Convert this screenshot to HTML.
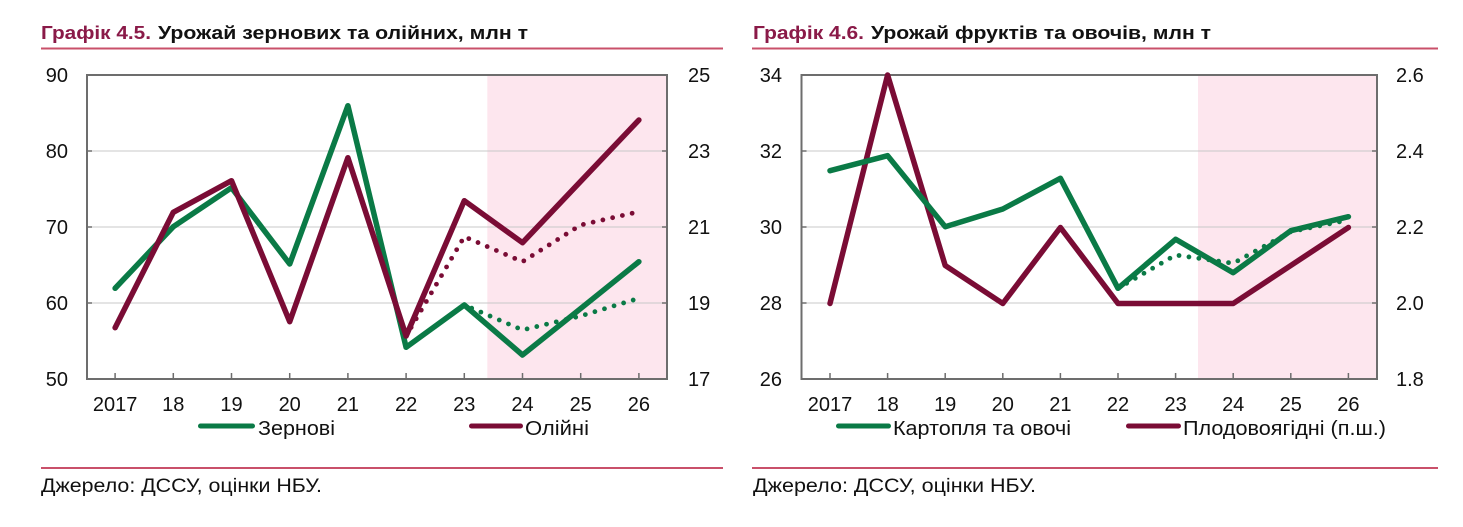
<!DOCTYPE html>
<html>
<head>
<meta charset="utf-8">
<style>
html,body{margin:0;padding:0;background:#fff;}
svg{display:block;}
text{font-family:"Liberation Sans","DejaVu Sans",sans-serif;}
</style>
</head>
<body>
<svg width="1463" height="527" viewBox="0 0 1463 527" xmlns="http://www.w3.org/2000/svg">
<rect width="1463" height="527" fill="#fff"/>

<!-- ===== LEFT CHART ===== -->
<text x="41" y="39" font-size="18" font-weight="bold" fill="#8a1a48" textLength="110" lengthAdjust="spacingAndGlyphs">Графік 4.5.</text>
<text x="158" y="39" font-size="18" font-weight="bold" fill="#111" textLength="370" lengthAdjust="spacingAndGlyphs">Урожай зернових та олійних, млн т</text>
<rect x="41" y="47.5" width="682" height="2" fill="#c9506a"/>

<rect x="487.3" y="75" width="179.7" height="304" fill="#fde6ee"/>
<g stroke="#c8c8c8" stroke-width="1">
<line x1="87" y1="151" x2="667" y2="151"/>
<line x1="87" y1="227" x2="667" y2="227"/>
<line x1="87" y1="303" x2="667" y2="303"/>
</g>
<g stroke="#6d6d6d" stroke-width="1.5">
<line x1="87" y1="151" x2="92" y2="151"/><line x1="87" y1="227" x2="92" y2="227"/><line x1="87" y1="303" x2="92" y2="303"/>
<line x1="662" y1="151" x2="667" y2="151"/><line x1="662" y1="227" x2="667" y2="227"/><line x1="662" y1="303" x2="667" y2="303"/>
<line x1="115.1" y1="379" x2="115.1" y2="373"/><line x1="173.3" y1="379" x2="173.3" y2="373"/><line x1="231.5" y1="379" x2="231.5" y2="373"/><line x1="289.7" y1="379" x2="289.7" y2="373"/><line x1="347.9" y1="379" x2="347.9" y2="373"/><line x1="406.1" y1="379" x2="406.1" y2="373"/><line x1="464.3" y1="379" x2="464.3" y2="373"/><line x1="522.5" y1="379" x2="522.5" y2="373"/><line x1="580.7" y1="379" x2="580.7" y2="373"/><line x1="638.9" y1="379" x2="638.9" y2="373"/>
</g>
<rect x="87" y="75" width="580" height="304" fill="none" stroke="#6d6d6d" stroke-width="2"/>

<!-- series -->
<polyline fill="none" stroke="#0a7a46" stroke-width="5.5" stroke-linejoin="round" stroke-linecap="round"
 points="115.1,288.3 173.3,226.7 231.5,187.7 289.7,264 347.9,105.7 406.1,347.3 464.3,305 522.5,355 580.7,308.5 638.9,261.7"/>
<polyline fill="none" stroke="#0a7a46" stroke-width="4.8" stroke-dasharray="0 10" stroke-linecap="round"
 points="406.1,347.3 464.3,305 522.5,330 580.7,316 638.9,298.3"/>
<polyline fill="none" stroke="#7a0c35" stroke-width="4.8" stroke-dasharray="0 10" stroke-linecap="round"
 points="406.1,336 464.3,236.7 522.5,261.7 580.7,225 638.9,211.7"/>
<polyline fill="none" stroke="#7a0c35" stroke-width="5.5" stroke-linejoin="round" stroke-linecap="round"
 points="115.1,327.7 173.3,212.3 231.5,180.7 289.7,321.7 347.9,157.7 406.1,336 464.3,200.7 522.5,242.7 580.7,181.3 638.9,120"/>

<!-- axis labels -->
<g font-size="20" fill="#111" text-anchor="end">
<text x="68" y="82">90</text><text x="68" y="158">80</text><text x="68" y="234">70</text><text x="68" y="310">60</text><text x="68" y="386">50</text>
</g>
<g font-size="20" fill="#111">
<text x="688" y="82">25</text><text x="688" y="158">23</text><text x="688" y="234">21</text><text x="688" y="310">19</text><text x="688" y="386">17</text>
</g>
<g font-size="20" fill="#111" text-anchor="middle">
<text x="115.1" y="411">2017</text><text x="173.3" y="411">18</text><text x="231.5" y="411">19</text><text x="289.7" y="411">20</text><text x="347.9" y="411">21</text><text x="406.1" y="411">22</text><text x="464.3" y="411">23</text><text x="522.5" y="411">24</text><text x="580.7" y="411">25</text><text x="638.9" y="411">26</text>
</g>
<!-- legend -->
<line x1="200.5" y1="426" x2="252.5" y2="426" stroke="#0a7a46" stroke-width="5" stroke-linecap="round"/>
<text x="258" y="435" font-size="20" fill="#111" textLength="77" lengthAdjust="spacingAndGlyphs">Зернові</text>
<line x1="471.5" y1="426" x2="520.5" y2="426" stroke="#7a0c35" stroke-width="5" stroke-linecap="round"/>
<text x="525" y="435" font-size="20" fill="#111" textLength="64" lengthAdjust="spacingAndGlyphs">Олійні</text>

<rect x="41" y="467" width="682" height="2" fill="#c9506a"/>
<text x="41" y="492" font-size="19" fill="#111" textLength="281" lengthAdjust="spacingAndGlyphs">Джерело: ДССУ, оцінки НБУ.</text>

<!-- ===== RIGHT CHART ===== -->
<text x="753" y="39" font-size="18" font-weight="bold" fill="#8a1a48" textLength="111" lengthAdjust="spacingAndGlyphs">Графік 4.6.</text>
<text x="871" y="39" font-size="18" font-weight="bold" fill="#111" textLength="340" lengthAdjust="spacingAndGlyphs">Урожай фруктів та овочів, млн т</text>
<rect x="752" y="47.5" width="686" height="2" fill="#c9506a"/>

<rect x="1198" y="75" width="179" height="304" fill="#fde6ee"/>
<g stroke="#c8c8c8" stroke-width="1">
<line x1="801.5" y1="151" x2="1377" y2="151"/>
<line x1="801.5" y1="227" x2="1377" y2="227"/>
<line x1="801.5" y1="303" x2="1377" y2="303"/>
</g>
<g stroke="#6d6d6d" stroke-width="1.5">
<line x1="801.5" y1="151" x2="806.5" y2="151"/><line x1="801.5" y1="227" x2="806.5" y2="227"/><line x1="801.5" y1="303" x2="806.5" y2="303"/>
<line x1="1372" y1="151" x2="1377" y2="151"/><line x1="1372" y1="227" x2="1377" y2="227"/><line x1="1372" y1="303" x2="1377" y2="303"/>
<line x1="830" y1="379" x2="830" y2="373"/><line x1="887.6" y1="379" x2="887.6" y2="373"/><line x1="945.2" y1="379" x2="945.2" y2="373"/><line x1="1002.8" y1="379" x2="1002.8" y2="373"/><line x1="1060.4" y1="379" x2="1060.4" y2="373"/><line x1="1118" y1="379" x2="1118" y2="373"/><line x1="1175.6" y1="379" x2="1175.6" y2="373"/><line x1="1233.2" y1="379" x2="1233.2" y2="373"/><line x1="1290.8" y1="379" x2="1290.8" y2="373"/><line x1="1348.4" y1="379" x2="1348.4" y2="373"/>
</g>
<rect x="801.5" y="75" width="575.5" height="304" fill="none" stroke="#6d6d6d" stroke-width="2"/>

<polyline fill="none" stroke="#7a0c35" stroke-width="5.5" stroke-linejoin="round" stroke-linecap="round"
 points="830,303.5 887.6,75 945.2,265.5 1002.8,303.5 1060.4,227.5 1118,303.5 1175.6,303.5 1233.2,303.5 1290.8,265.5 1348.4,227.5"/>
<polyline fill="none" stroke="#0a7a46" stroke-width="5.5" stroke-linejoin="round" stroke-linecap="round"
 points="830,170.7 887.6,155.7 945.2,226.7 1002.8,209 1060.4,178.3 1118,288.3 1175.6,239.3 1233.2,272.7 1290.8,230.7 1348.4,216.7"/>
<polyline fill="none" stroke="#0a7a46" stroke-width="4.8" stroke-dasharray="0 10" stroke-linecap="round"
 points="1118,288.3 1175.6,255 1233.2,263.3 1290.8,231.7 1348.4,220"/>

<g font-size="20" fill="#111" text-anchor="end">
<text x="782" y="82">34</text><text x="782" y="158">32</text><text x="782" y="234">30</text><text x="782" y="310">28</text><text x="782" y="386">26</text>
</g>
<g font-size="20" fill="#111">
<text x="1396" y="82">2.6</text><text x="1396" y="158">2.4</text><text x="1396" y="234">2.2</text><text x="1396" y="310">2.0</text><text x="1396" y="386">1.8</text>
</g>
<g font-size="20" fill="#111" text-anchor="middle">
<text x="830" y="411">2017</text><text x="887.6" y="411">18</text><text x="945.2" y="411">19</text><text x="1002.8" y="411">20</text><text x="1060.4" y="411">21</text><text x="1118" y="411">22</text><text x="1175.6" y="411">23</text><text x="1233.2" y="411">24</text><text x="1290.8" y="411">25</text><text x="1348.4" y="411">26</text>
</g>
<line x1="838.5" y1="426" x2="888.5" y2="426" stroke="#0a7a46" stroke-width="5" stroke-linecap="round"/>
<text x="893" y="435" font-size="20" fill="#111" textLength="178" lengthAdjust="spacingAndGlyphs">Картопля та овочі</text>
<line x1="1128.5" y1="426" x2="1178.5" y2="426" stroke="#7a0c35" stroke-width="5" stroke-linecap="round"/>
<text x="1183" y="435" font-size="20" fill="#111" textLength="203" lengthAdjust="spacingAndGlyphs">Плодовоягідні (п.ш.)</text>

<rect x="752" y="467" width="686" height="2" fill="#c9506a"/>
<text x="753" y="492" font-size="19" fill="#111" textLength="283" lengthAdjust="spacingAndGlyphs">Джерело: ДССУ, оцінки НБУ.</text>
</svg>
</body>
</html>
